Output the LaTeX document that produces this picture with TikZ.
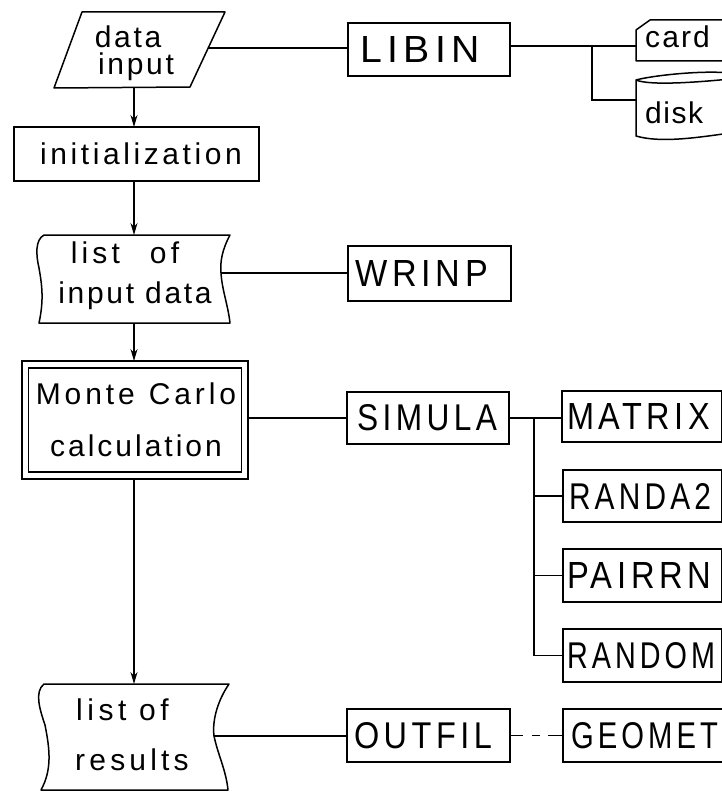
\documentclass[tikz,border=0pt]{standalone}
\usepackage{fontspec}
\usepackage{graphicx}
\setmainfont{Liberation Sans}
\newfontfamily\capsfont[LetterSpace=14]{Liberation Sans}
\newcommand{\capfit}[2]{\resizebox{#1}{26pt}{\capsfont #2}}
\newcommand{\sptext}[2]{{\addfontfeature{LetterSpace=#1}#2}}
\usetikzlibrary{arrows.meta}
\tikzset{
  ln/.style={line width=1.5pt,black},
  arr/.style={ln,-{Stealth[length=12pt,width=7pt]}},
  capsbox/.style={draw,line width=1.5pt,anchor=north west,minimum height=#1,inner ysep=0pt,outer sep=0pt,align=left},
  lowbox/.style={draw,line width=1.5pt,anchor=north west,outer sep=0pt,inner sep=0pt,font=\fontsize{30}{30}\selectfont},
  lowtext/.style={inner sep=0pt,align=center,font=\fontsize{30}{40}\selectfont},
  outl/.style={line width=1.5pt,line join=round},
}
\begin{document}
\begin{tikzpicture}[x=1pt,y=-1pt]
\useasboundingbox (0,0) rectangle (722,792);
\clip (0,0) rectangle (722,792);
% flowchart column
\draw[outl] (82,12) -- (225,12) -- (190,87) -- (54,88) -- cycle;
\node[lowtext,font=\fontsize{30}{27}\selectfont] (datainput) at (132,53) {\hspace*{-8pt}\sptext{9}{data}\\ \hspace*{8pt}\sptext{9}{input}};
\coordinate (datain-b) at (134,88);
\coordinate (datain-r) at (208,48);
\node[lowbox,minimum width=245pt,minimum height=54pt] (init) at (14,127) {\hspace*{9pt}\sptext{12}{initialization}};
% list of input data
\draw[outl] (44,235) -- (230,235) .. controls (222,250) and (220,262) .. (221,273) .. controls (222,290) and (228,305) .. (230,323) -- (39,323) .. controls (44,300) and (42,285) .. (39,268) .. controls (36,255) and (35,240) .. (44,235) -- cycle;
\node[lowtext] (listinput) at (135,276) {\hspace*{-20pt}\sptext{14}{list}\hspace{30pt}\sptext{14}{of}\\\sptext{9}{input data}};
\coordinate (li-t) at (134,235);
\coordinate (li-b) at (134,323);
\coordinate (li-r) at (221,273);
% Monte Carlo
\node[draw,line width=1.5pt,anchor=north west,minimum width=226pt,minimum height=118pt,outer sep=0pt] (mcouter) at (22,361) {};
\node[draw,line width=1.5pt,minimum width=213pt,minimum height=104pt] (mc) at (mcouter.center) {};
\node[lowtext,font=\fontsize{30}{52}\selectfont] (mctext) at (136,420) {\sptext{13}{Monte}\hspace{14pt}\sptext{13}{Carlo}\\\sptext{10}{calculation}};
% list of results
\draw[outl] (44,684) -- (229,684) .. controls (218,700) and (212,720) .. (214,736) .. controls (218,755) and (226,770) .. (228,790) -- (41,790) .. controls (52,770) and (50,750) .. (45,725) .. controls (40,710) and (34,692) .. (44,684) -- cycle;
\node[lowtext,font=\fontsize{30}{50}\selectfont] (listres) at (129,735) {\hspace*{-13pt}\sptext{15}{list of}\\\hspace*{6pt}\sptext{14}{results}};
\coordinate (lr-t) at (134,684);
\coordinate (lr-r) at (214,736);
% subroutine boxes
\node[capsbox=53pt,minimum width=162pt,inner xsep=12pt,text width=138pt] (libin) at (348,23) {\capfit{120pt}{LIBIN}};
\node[capsbox=55pt,minimum width=163pt,inner xsep=7pt,text width=149pt] (wrinp) at (348,246) {\capfit{133pt}{WRINP}};
\node[capsbox=52pt,minimum width=162pt,inner xsep=10pt,text width=142pt] (simula) at (347,392) {\capfit{140pt}{SIMULA}};
\node[capsbox=53pt,minimum width=163pt,inner xsep=7pt,text width=149pt] (outfil) at (347,709) {\capfit{138pt}{OUTFIL}};
\node[capsbox=51pt,minimum width=160pt,inner xsep=5pt,text width=150pt] (matrix) at (562,391) {\capfit{143pt}{MATRIX}};
\node[capsbox=52pt,minimum width=159pt,inner xsep=6pt,text width=147pt] (randa) at (563,470) {\capfit{142pt}{RANDA2}};
\node[capsbox=53pt,minimum width=159pt,inner xsep=4pt,text width=151pt] (pairrn) at (563,549) {\capfit{144pt}{PAIRRN}};
\node[capsbox=53pt,minimum width=159pt,inner xsep=4pt,text width=151pt] (random) at (563,629) {\capfit{148pt}{RANDOM}};
\node[capsbox=53pt,minimum width=159pt,inner xsep=8pt,text width=150pt] (geomet) at (563,709) {\capfit{147pt}{GEOMET}};
% card
\draw[outl] (730,20) -- (650,20) -- (636,30) -- (636,61) -- (730,61);
\node[inner sep=0pt,anchor=west,font=\fontsize{30}{30}\selectfont] (card) at (645,37) {\sptext{7}{card}};
\coordinate (card-l) at (636,46);
% disk
\draw[outl] (730,79) .. controls (700,82) and (650,86) .. (636,80) -- (636,136) .. controls (660,143) and (695,138) .. (730,133);
\draw[outl] (636,80) .. controls (650,76) and (700,70) .. (730,73);
\node[inner sep=0pt,anchor=west,font=\fontsize{30}{30}\selectfont] (disk) at (645,113) {\sptext{5}{disk}};
\coordinate (disk-l) at (636,100);
% branch points
\coordinate (j1) at (592,46);
\coordinate (j2) at (534,417);
% connectors
\draw[arr] (datain-b) -- (init.north -| datain-b);
\draw[arr] (init.south -| datain-b) -- (li-t);
\draw[arr] (li-b) -- (mcouter.north -| li-b);
\draw[arr] (mcouter.south -| li-b) -- (lr-t);
\draw[ln] (datain-r) -- (libin.west |- datain-r);
\draw[ln] (li-r) -- (wrinp.west |- li-r);
\draw[ln] (mcouter.east |- simula.west) -- (simula.west);
\draw[ln] (lr-r) -- (outfil.west |- lr-r);
\draw[ln] (libin.east |- j1) -- (j1) -- (card-l);
\draw[ln] (j1) -- (j1 |- disk-l) -- (disk-l);
\draw[ln] (simula.east) -- (matrix.west |- simula.east);
\draw[ln] (j2) -- (j2 |- random.west) -- (random.west);
\draw[ln] (j2 |- randa.west) -- (randa.west);
\draw[ln] (j2 |- pairrn.west) -- (pairrn.west);
\draw[ln,dash pattern=on 13pt off 9pt on 8pt off 8pt on 16pt] (outfil.east) -- (geomet.west);
\end{tikzpicture}
\end{document}
